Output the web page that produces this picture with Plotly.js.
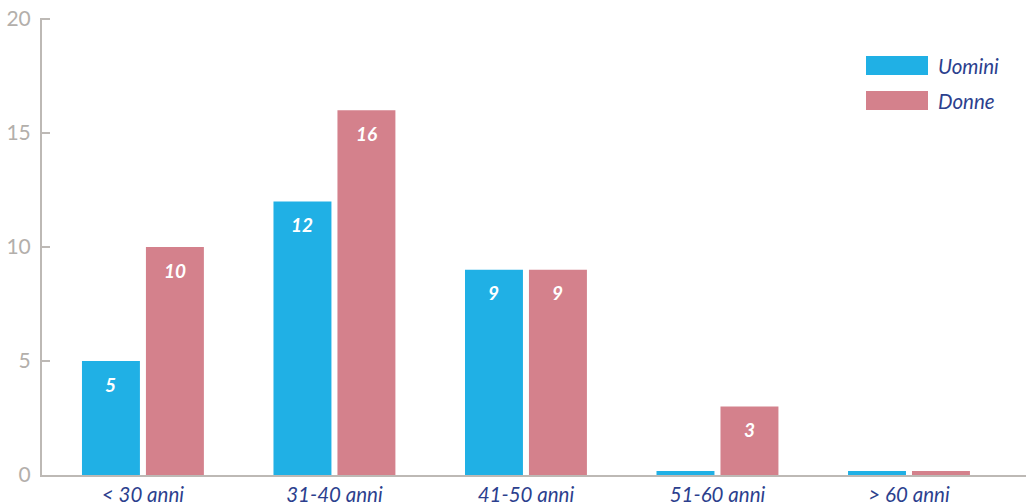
<!DOCTYPE html>
<html><head><meta charset="utf-8">
<script src="https://cdn.plot.ly/plotly-3.0.1.min.js"></script>
<style>html,body{margin:0;padding:0;background:#fff}#chart{width:1026px;height:503px}</style>
</head><body><div id="chart"></div>
<script>
const categories = ["< 30 anni", "31-40 anni", "41-50 anni", "51-60 anni", "> 60 anni"];
const uomini = [5, 12, 9, 0.18, 0.18];
const donne = [10, 16, 9, 3, 0.18];
const uominiLabels = ["5", "12", "9", "", ""];
const donneLabels = ["10", "16", "9", "3", ""];
const seriesNames = ["Uomini", "Donne"];
const colors = ["#20b0e5", "#d4818c"];
const yTicks = [0, 5, 10, 15, 20];

const idx = categories.map((c, i) => i);
const traces = [
  {type: "bar", x: idx, y: uomini, name: seriesNames[0], marker: {color: colors[0]}, hoverinfo: "skip"},
  {type: "bar", x: idx, y: donne, name: seriesNames[1], marker: {color: colors[1]}, hoverinfo: "skip"}
];

const off = 0.167;
const annotations = [];
idx.forEach(i => {
  if (uominiLabels[i]) annotations.push({x: i - off, y: uomini[i], xref: "x", yref: "y", text: uominiLabels[i], showarrow: false, yshift: -23,
    font: {family: "Lato", size: 19, color: "#ffffff", weight: 700, style: "italic"}});
  if (donneLabels[i]) annotations.push({x: i + off, y: donne[i], xref: "x", yref: "y", text: donneLabels[i], showarrow: false, yshift: -23,
    font: {family: "Lato", size: 19, color: "#ffffff", weight: 700, style: "italic"}});
});
// legend
const shapes = [];
seriesNames.forEach((n, k) => {
  shapes.push({type: "rect", xref: "paper", yref: "paper", x0: (866 - 42) / 984, x1: (928 - 42) / 984,
    y0: (475 - (75 + k * 35)) / 457, y1: (475 - (56 + k * 35)) / 457, fillcolor: colors[k], line: {width: 0}});
  annotations.push({xref: "paper", yref: "paper", x: (936 - 42) / 984, y: (475 - (66 + k * 35)) / 457, xanchor: "left", yanchor: "middle",
    text: n, showarrow: false, font: {family: "Lato", size: 20.5, color: "#2c3f8e", style: "italic"}});
});

const layout = {
  width: 1026, height: 503,
  margin: {l: 42, r: 0, t: 18, b: 28},
  paper_bgcolor: "#ffffff", plot_bgcolor: "#ffffff",
  showlegend: false,
  barmode: "group", bargap: 0.332, bargroupgap: 0.094,
  xaxis: {
    range: [-0.527, 4.611], tickvals: idx, ticktext: categories,
    showline: true, linecolor: "#bdb9b5", linewidth: 2, ticks: "", showgrid: false, zeroline: false,
    tickfont: {family: "Lato", size: 20.5, color: "#2c3f8e", style: "italic"}
  },
  yaxis: {
    range: [0, 20.05], tickvals: yTicks, showline: true, linecolor: "#bdb9b5", linewidth: 2,
    ticks: "inside", ticklen: 8, tickcolor: "#bdb9b5", tickwidth: 2, showgrid: false, zeroline: false,
    tickfont: {family: "Lato", size: 21, color: "#b3afab"}, ticklabelstandoff: 5
  },
  annotations: annotations, shapes: shapes
};
Plotly.newPlot("chart", traces, layout, {displayModeBar: false, staticPlot: true});
</script></body></html>
